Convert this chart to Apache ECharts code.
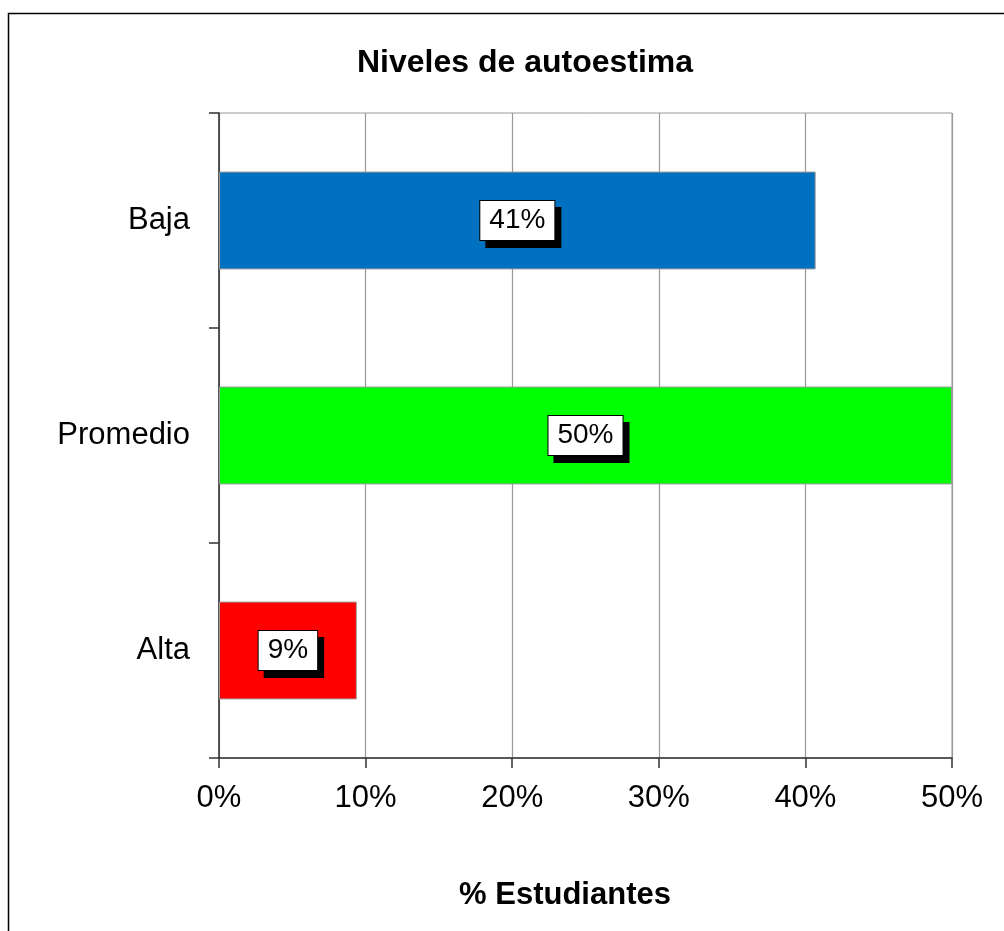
<!DOCTYPE html>
<html>
<head>
<meta charset="utf-8">
<script src="https://cdn.jsdelivr.net/npm/echarts@6/dist/echarts.min.js"></script>
<style>
html,body{margin:0;padding:0;background:#fff;}
#chart{width:1004px;height:931px;}
</style>
</head>
<body>
<div id="chart"></div>
<script>
var categories = ['Baja', 'Promedio', 'Alta'];
var values = [40.7, 50.0, 9.4];
var barColors = ['#0070C0', '#00FF00', '#FF0000'];
var xTicks = [0, 10, 20, 30, 40, 50];

var FONT = '"Liberation Sans", Arial, sans-serif';
var chart = echarts.init(document.getElementById('chart'), null, {renderer: 'canvas'});

var option = {
  backgroundColor: '#fff',
  animation: false,
  textStyle: {fontFamily: FONT},
  title: {
    text: 'Niveles de autoestima',
    left: 525,
    top: 47,
    padding: 0,
    textAlign: 'center',
    textStyle: {fontFamily: FONT, fontSize: 32, fontWeight: 'bold', color: '#000'}
  },
  graphic: [{
    type: 'rect',
    shape: {x: 8.5, y: 13.5, width: 1200, height: 1200},
    style: {fill: 'none', stroke: '#000', lineWidth: 1.5},
    silent: true,
    z: 100
  }],
  grid: {
    left: 219, right: 52, top: 113, bottom: 173,
    show: true, borderColor: '#999', borderWidth: 1, backgroundColor: 'transparent'
  },
  xAxis: {
    type: 'value',
    min: xTicks[0],
    max: xTicks[xTicks.length - 1],
    interval: xTicks[1] - xTicks[0],
    name: '% Estudiantes',
    nameLocation: 'middle',
    nameGap: 122,
    nameTextStyle: {fontFamily: FONT, fontSize: 31, fontWeight: 'bold', color: '#000', padding: [0, 41, 0, 0]},
    axisLine: {show: true, lineStyle: {color: '#333', width: 1.5}},
    axisTick: {show: true, inside: false, length: 10, lineStyle: {color: '#333', width: 1.5}},
    axisLabel: {formatter: '{value}%', fontFamily: FONT, fontSize: 31, color: '#000', margin: 25},
    splitLine: {show: true, lineStyle: {color: '#999', width: 1.2}}
  },
  yAxis: {
    type: 'category',
    data: categories,
    inverse: true,
    axisLine: {show: true, lineStyle: {color: '#333', width: 1.5}},
    axisTick: {show: true, inside: false, length: 10, alignWithLabel: false, lineStyle: {color: '#333', width: 1.5}},
    axisLabel: {fontFamily: FONT, fontSize: 31, color: '#000', margin: 29, padding: [4, 0, 0, 0]},
    splitLine: {show: false}
  },
  series: [{
    type: 'bar',
    barCategoryGap: '54.5%',
    data: values.map(function (v, i) {
      return {value: v, itemStyle: {color: barColors[i], borderColor: '#999', borderWidth: 1}};
    }),
    label: {
      show: true,
      position: 'inside',
      formatter: function (p) { return Math.round(p.value) + '%'; },
      fontFamily: FONT,
      fontSize: 28,
      color: '#000',
      backgroundColor: '#fff',
      borderColor: '#000',
      borderWidth: 1,
      padding: [6, 9, 5, 9],
      shadowColor: '#000',
      shadowBlur: 0,
      shadowOffsetX: 6,
      shadowOffsetY: 7
    }
  }]
};
chart.setOption(option);
</script>
</body>
</html>
